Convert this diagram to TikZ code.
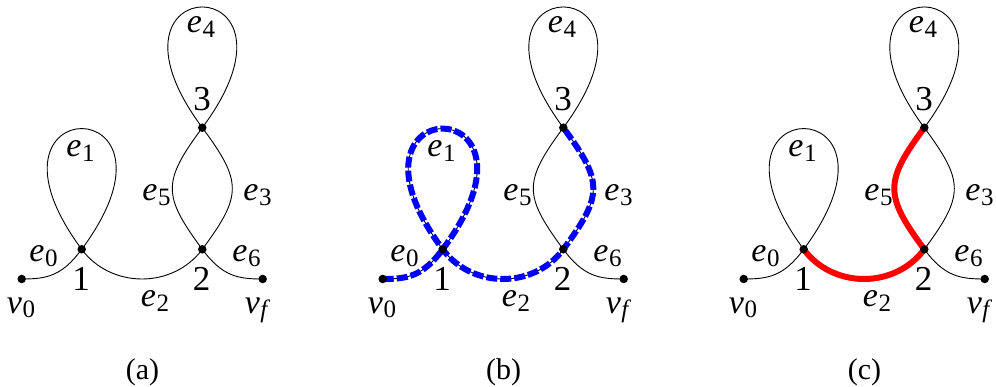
\documentclass[tikz,border=0pt]{standalone}
\usepackage{fontspec}
\setmainfont{Liberation Serif}
\newcommand\edgelab[2]{\textit{#1}\kern0.5pt\raisebox{-5pt}{\fontsize{25}{30}\selectfont #2}}
\tikzset{
  edge/.style={line width=0.9pt},
  dot/.style={circle, fill=black, inner sep=0pt, minimum size=8.5pt},
  elab/.style={anchor=base, inner sep=0pt, font=\fontsize{34}{40}\selectfont},
  vlab/.style={anchor=base, inner sep=0pt, font=\fontsize{35}{42}\selectfont},
  caplab/.style={anchor=base, inner sep=0pt, font=\fontsize{30}{36}\selectfont},
  bluepath/.style={draw=blue, line width=6pt, dash pattern=on 11pt off 3pt},
  redpath/.style={draw=red, line width=6pt, line join=round},
}
\newcommand\basegraph[1]{%
  \coordinate (#1v0) at (21.7,279);
  \coordinate (#1n1) at (81.7,249.3);
  \coordinate (#1n2) at (202.3,249.3);
  \coordinate (#1n3) at (202.3,127.7);
  \coordinate (#1vf) at (262.7,279);
  \draw[edge] (#1v0) .. controls +(25,0) and +(-20,27) .. (#1n1);
  \draw[edge] (#1n1) .. controls +(-119.5,-161) and +(119.5,-161) .. (#1n1);
  \draw[edge] (#1n1) .. controls +(29.4,39.6) and +(-29.4,39.6) .. (#1n2);
  \draw[edge] (#1n2) .. controls +(-40,-54) and +(-40,54) .. (#1n3);
  \draw[edge] (#1n2) .. controls +(40,-54) and +(40,54) .. (#1n3);
  \draw[edge] (#1n3) .. controls +(-119.5,-161) and +(119.5,-161) .. (#1n3);
  \draw[edge] (#1n2) .. controls +(20,27) and +(-25,0) .. (#1vf);
  \node[elab] (#1le0) at (43.5,262) {\edgelab{e}{0}};
  \node[elab] (#1le1) at (80.5,157) {\edgelab{e}{1}};
  \node[elab] (#1le2) at (155,307) {\edgelab{e}{2}};
  \node[elab] (#1le3) at (257.5,201) {\edgelab{e}{3}};
  \node[elab] (#1le4) at (201,33) {\edgelab{e}{4}};
  \node[elab] (#1le5) at (156.5,201) {\edgelab{e}{5}};
  \node[elab] (#1le6) at (246.5,262) {\edgelab{e}{6}};
  \node[elab] (#1lv0) at (21,313) {\edgelab{v}{0}};
  \node[elab] (#1lvf) at (257.5,313) {\edgelab{v}{\textit{f}}};
  \node[vlab] (#1l1) at (81,291) {1};
  \node[vlab] (#1l2) at (201.5,291) {2};
  \node[vlab] (#1l3) at (202,111) {3};
}
\newcommand\vertexdots[1]{%
  \node[dot] (#1dv0) at (#1v0) {};
  \node[dot] (#1d1) at (#1n1) {};
  \node[dot] (#1d2) at (#1n2) {};
  \node[dot] (#1d3) at (#1n3) {};
  \node[dot] (#1dvf) at (#1vf) {};
}
\begin{document}
\begin{tikzpicture}[x=1pt,y=-1pt]
\useasboundingbox (0,0) rectangle (996,387);
% panel (a)
\begin{scope}
  \basegraph{a}
  \vertexdots{a}
  \node[caplab] (capa) at (142.5,379) {(a)};
\end{scope}
% panel (b)
\begin{scope}[xshift=361pt]
  \basegraph{b}
  \draw[bluepath] (bv0) .. controls +(25,0) and +(-20,27) .. (bn1)
     .. controls +(119.5,-161) and +(-119.5,-161) .. (bn1)
     .. controls +(29.4,39.6) and +(-29.4,39.6) .. (bn2)
     .. controls +(40,-54) and +(40,54) .. (bn3);
  \vertexdots{b}
  \node[caplab] (capb) at (142.5,379) {(b)};
\end{scope}
% panel (c)
\begin{scope}[xshift=722pt]
  \basegraph{c}
  \draw[redpath] (cn1) .. controls +(29.4,39.6) and +(-29.4,39.6) .. (cn2)
     .. controls +(-40,-54) and +(-40,54) .. (cn3);
  \vertexdots{c}
  \node[caplab] (capc) at (142.5,379) {(c)};
\end{scope}
\end{tikzpicture}
\end{document}
